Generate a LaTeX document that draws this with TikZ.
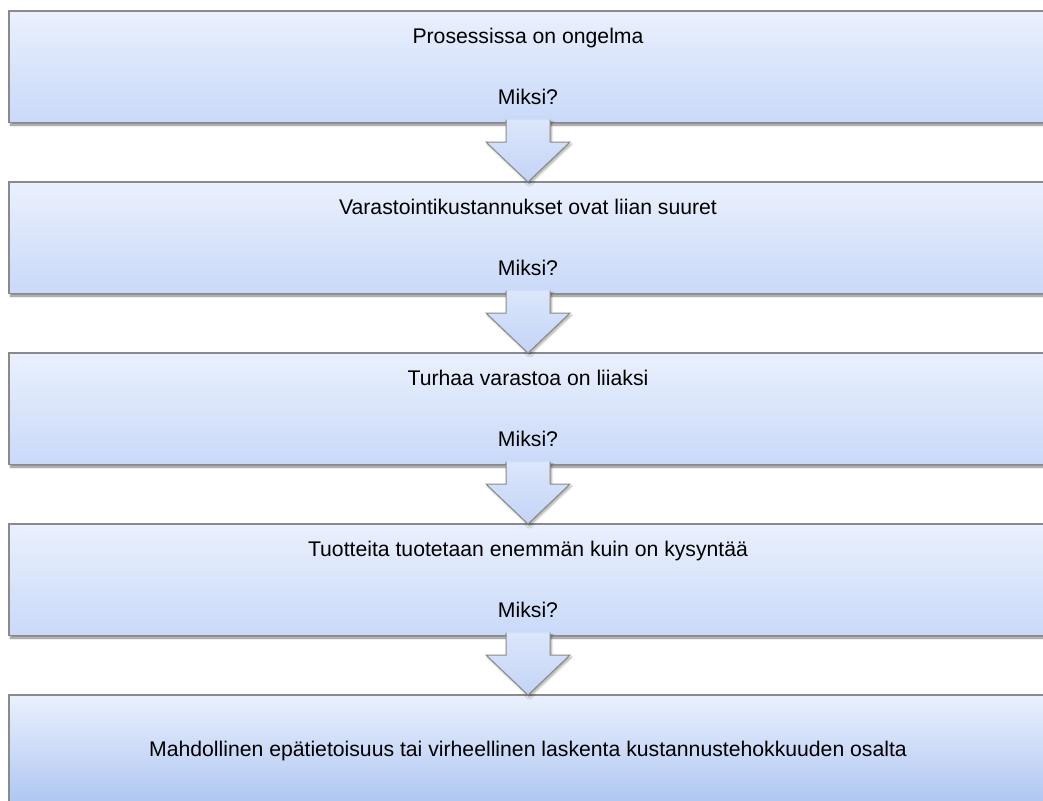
\documentclass[tikz,border=0pt]{standalone}
\usepackage{fontspec}
\setmainfont{Liberation Sans}
\usetikzlibrary{positioning, calc, shadows.blur}
\definecolor{boxtop}{HTML}{EAF0FD}
\definecolor{boxbot}{HTML}{C9D9F8}
\definecolor{boxdeep}{HTML}{ADC5F1}
\definecolor{edge}{HTML}{8A8A8A}
\definecolor{arrtop}{HTML}{DCE6FB}
\definecolor{arrbot}{HTML}{C2D4F6}

\begin{document}
\begin{tikzpicture}[
    every node/.style={font=\fontsize{21.2}{30.5}\selectfont, align=center},
    whybox/.style={draw=edge, line width=1.2pt, top color=boxtop, bottom color=boxbot,
      minimum width=1038pt, minimum height=111.5pt, inner sep=0pt, outer sep=0pt,
      blur shadow={shadow xshift=1.5pt, shadow yshift=-2.5pt, shadow blur steps=6, shadow opacity=50}},
    whyarrow/.style={draw=edge, line width=1pt, top color=arrtop, bottom color=arrbot,
      blur shadow={shadow xshift=1.5pt, shadow yshift=-2pt, shadow blur steps=6, shadow opacity=35},
      to path={($(\tikztostart.south)+(-22pt,3pt)$) -- ($(\tikztostart.south)+(-22pt,-19.5pt)$)
        -- ($(\tikztostart.south)+(-42pt,-19.5pt)$) -- (\tikztotarget.north)
        -- ($(\tikztostart.south)+(42pt,-19.5pt)$) -- ($(\tikztostart.south)+(22pt,-19.5pt)$)
        -- ($(\tikztostart.south)+(22pt,3pt)$)}},
  ]
  \useasboundingbox (0,0) rectangle (1043pt,-800pt);
  \clip (0,0) rectangle (1043pt,-800pt);

  \node[whybox] (problem) at (528pt,-66.75pt) {Prosessissa on ongelma\\[30.5pt]Miksi?};
  \node[whybox, below=59.5pt of problem] (storage) {Varastointikustannukset ovat liian suuret\\[30.5pt]Miksi?};
  \node[whybox, below=59.5pt of storage] (surplus) {Turhaa varastoa on liiaksi\\[30.5pt]Miksi?};
  \node[whybox, below=59.5pt of surplus] (overprod) {Tuotteita tuotetaan enemmän kuin on kysyntää\\[30.5pt]Miksi?};
  \node[whybox, bottom color=boxdeep, below=59.5pt of overprod] (cause) {Mahdollinen epätietoisuus tai virheellinen laskenta kustannustehokkuuden osalta};

  \path[whyarrow] (problem)  to (storage);
  \path[whyarrow] (storage)  to (surplus);
  \path[whyarrow] (surplus)  to (overprod);
  \path[whyarrow] (overprod) to (cause);
\end{tikzpicture}
\end{document}
